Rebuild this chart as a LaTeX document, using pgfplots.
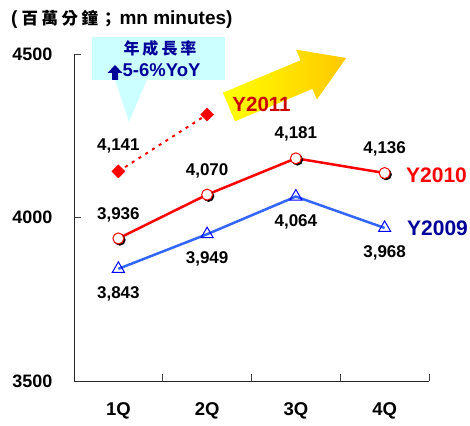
\documentclass[border=0pt]{standalone}
\usepackage{fontspec}
\setmainfont{Liberation Sans}
\newfontfamily\cjk{Noto Sans CJK TC}
\usepackage{pgfplots}
\pgfplotsset{compat=1.18}
\definecolor{lineblue}{HTML}{3366FF}
\definecolor{mkblue}{HTML}{0000FF}
\definecolor{navy}{HTML}{000099}
\definecolor{boxcyan}{HTML}{CCFFFF}
\definecolor{darkred}{HTML}{CC0000}
\definecolor{gold}{HTML}{FFC800}
\begin{document}
\begin{tikzpicture}[x=1pt,y=1pt]
\path[use as bounding box] (0,0) rectangle (470,425);
% title
\node[anchor=base west, inner sep=0pt, font=\bfseries\fontsize{19}{21}\selectfont] at (11,400) {(\hspace{4pt}{\cjk\bfseries\fontsize{16.5}{18}\selectfont 百\hspace{3.5pt}萬\hspace{3.5pt}分\hspace{3.5pt}鐘\hspace{2pt}；}\hspace{3pt}mn minutes)};
% callout
\fill[boxcyan] (92,388) rectangle (225,345);
\fill[boxcyan] (115,345.5) -- (147,345.5) -- (129,303) -- cycle;
\node[font=\bfseries\fontsize{16}{18}\selectfont, text=navy, inner sep=0pt] at (160,377) {\cjk\bfseries 年\hspace{3pt}成\hspace{3pt}長\hspace{3pt}率};
\fill[navy] (115,360) -- (122.5,352) -- (118,352) -- (118,345) -- (112,345) -- (112,352) -- (107.5,352) -- cycle;
\node[font=\bfseries\fontsize{18.5}{20}\selectfont, text=navy, inner sep=0pt, anchor=west] at (122.5,355) {5-6\%YoY};
% arrow
\begin{scope}[shift={(229,318)}, rotate=22.7]
\shade[left color=yellow, right color=gold] (0,-15.5) -- (84,-15.5) -- (84,-27) -- (127,0) -- (84,27) -- (84,15.5) -- (0,15.5) -- cycle;
\end{scope}
\node[font=\bfseries\fontsize{20.5}{22}\selectfont, text=darkred, inner sep=0pt] at (261.5,320.5) {Y2011};
\node[font=\bfseries\fontsize{21}{23}\selectfont, text=red, inner sep=0pt, anchor=west] at (406,250) {Y2010};
\node[font=\bfseries\fontsize{21}{23}\selectfont, text=navy, inner sep=0pt, anchor=west] at (407,197) {Y2009};
\begin{axis}[at={(74pt,44pt)}, anchor=south west, scale only axis,
  width=355pt, height=327pt,
  xmin=0.5, xmax=4.5, ymin=3500, ymax=4500,
  clip=false,
  axis lines=left, axis line style={-, line width=1pt, draw=black!85},
  xtick={1,2,3,4}, xticklabels={1Q,2Q,3Q,4Q},
  minor xtick={0.5,1.5,2.5,3.5,4.5},
  major x tick style={draw=none},
  minor x tick style={draw=black!75, line width=0.8pt},
  minor tick length=7pt, major tick length=7pt,
  ytick={3500,4000,4500},
  y tick style={draw=black!75, line width=0.8pt},
  tick align=inside,
  /pgf/number format/assume math mode=true,
  /pgf/number format/1000 sep={},
  yticklabel style={font=\bfseries\fontsize{18}{20}\selectfont, xshift=-18pt},
  xticklabel style={font=\bfseries\fontsize{18.5}{20}\selectfont, yshift=-18pt},
  nodes near coords,
  point meta=explicit symbolic,
]
% Y2011
\addplot[draw=red, line width=2pt, dash pattern=on 3pt off 5pt, mark=square*, mark size=4.6pt,
  mark options={solid, rotate=45, fill=red, draw=red, line width=0.5pt},
  every node near coord/.append style={anchor=center, yshift=25pt, text=black, font=\bfseries\fontsize{17}{19}\selectfont}]
  table[meta=lab] {
x y lab
1 4141 4,141
2 4315 {}
};
% Y2009
\addplot[draw=lineblue, line width=2.5pt, mark=triangle, mark size=7pt,
  mark options={solid, draw=mkblue, fill=white, line width=1pt},
  every node near coord/.append style={anchor=center, yshift=-25pt, text=black, font=\bfseries\fontsize{17}{19}\selectfont}]
  table[meta=lab] {
x y lab
1 3843 3,843
2 3949 3,949
3 4064 4,064
4 3968 3,968
};
% Y2010 shadow
\addplot[draw=none, mark=*, mark size=5.5pt, nodes near coords={},
  mark options={fill=black, draw=black, xshift=1.5pt, yshift=-1.5pt}]
  table[meta=lab] {
x y lab
1 3936 {}
2 4070 {}
3 4181 {}
4 4136 {}
};
% Y2010
\addplot[draw=red, line width=2.5pt, mark=*, mark size=5.5pt,
  mark options={solid, draw=red, fill=white, line width=1pt},
  every node near coord/.append style={anchor=center, yshift=24pt, text=black, font=\bfseries\fontsize{17}{19}\selectfont}]
  table[meta=lab] {
x y lab
1 3936 3,936
2 4070 4,070
3 4181 4,181
4 4136 4,136
};
\end{axis}
\end{tikzpicture}
\end{document}
